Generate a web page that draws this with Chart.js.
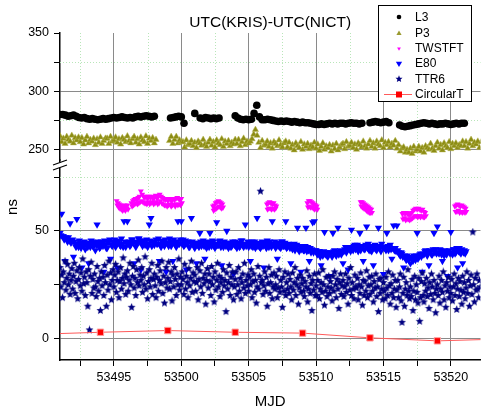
<!DOCTYPE html>
<html>
<head>
<meta charset="utf-8">
<script src="https://cdn.jsdelivr.net/npm/chart.js@4.4.1/dist/chart.umd.min.js"></script>
<style>
  html, body { margin: 0; padding: 0; background: #fff; }
  #wrap { width: 486px; height: 414px; }
</style>
</head>
<body>
<div id="wrap"><canvas id="chart" width="486" height="414"></canvas></div>
<script>
const l3Start = 53491.0, l3Step = 0.2;
const l3 = [
  280, 280, 279.5, 278.5, 279,
  279.5, 278.5, 277.5, 277, 277.5,
  276.5, 276, 276.5, 276, 275.5,
  276, 276.5, 276, 276.5, 277,
  277.5, 277, 277.5, 278, 277.5,
  277, 277.5, 277, 278, 278.5,
  278, 278.5, 279, 278.5, 278,
  278.5, null, null, null, null,
  null, 277, 277.5, 278, 278.5,
  278, 272.5, null, null, null,
  281, null, 277, 276.5, 277.5,
  277, 276.5, 277, 276.5, 277,
  null, null, null, null, null,
  279, 277, 276, 275.5, 276,
  275.5, 276, 281, 288, 278,
  275.5, 275.5, 276, 275.5, 275,
  274.5, 274, 274.5, 274, 274.5,
  274, 273.5, 274, 273.5, 273,
  273.5, 273, 273, 272.5, 272,
  271.5, 271.5, 272, 271.5, 272,
  272.5, 272, 272.5, 272, 272.5,
  272.5, 272, 272.5, 273, 272.5,
  272.5, 272, 272.5, null, null,
  273, 273.5, 274, 273.5, 273,
  273.5, 274, 273, null, null,
  null, 271, 270, 269.5, 270,
  270.5, 271, 271.5, 272, 272.5,
  273, 272.5, 272, 272.5, 272,
  271.5, 272, 272, 272.5, 272,
  271.5, 272, 272.5, 272, 272.5,
  272.5
];

const p3Start = 53491.0, p3Step = 0.125;
const p3 = [
  261.5, 256.5, 259.5, 255, 261, 258.5, 257, 262, 255.5, 260, 258, 260.5,
  256.5, 260, 254.5, 258, 261, 255.5, 258.5, 257, 259.5, 254, 259, 256, 260.5, 255, 257.5, 259.5,
  259.5, 255, 261, 257, 258, 260.5, 256, 259, 254.5, 260, 258.5, 256.5, 261.5, 257.5, 255.5, 259,
  261, 256, 259, 254.5, 260.5, 258, 256.5, 261.5, 255, 259.5, 257.5, 260, 255.5, 258.5,
  null, null, null, null, null, null, null,
  257.5, 261, 255, 258.5, 261, 255.5, 258, 256.5,
  256.5, 252, 258, 254, 255, 257.5, 253, 256, 251.5, 257, 255.5, 253.5, 258.5, 254.5, 252.5, 256,
  258.5, 253.5, 256.5, 252, 258, 255.5, 254, 259, 252.5, 257, 255, 257.5, 253, 256, 254.5, 258.5,
  255, 258.5, 253, 256.5, 259.5, 254, 257,
  255.5, 257, 259, 263, 267, 262,
  256, 251.5, 257.5, 253.5, 254.5, 257, 252.5, 255.5, 251, 256.5, 255, 253, 258, 254, 252, 255.5, 257, 252,
  256, 251, 254, 249.5, 255.5, 253, 251.5, 256.5, 250, 254.5, 252.5, 255, 250.5, 253.5, 252, 256,
  251, 254.5, 249, 252.5, 255.5, 250, 253, 251.5, 254, 248.5, 253.5, 250.5, 255, 249.5, 252, 254,
  255, 250.5, 256.5, 252.5, 253.5, 256, 251.5, 254.5, 250, 255.5, 254, 252, 257, 253, 251, 254.5,
  257.5, 252.5, 255.5, 251, 257, 254.5, 253, 258, 251.5, 256, 254, 256.5, 252, 255, 253.5, 257.5,
  251, 254, 248.5, 251, 252, 247.5, 250, 247.5,
  251, 246.5, 252.5, 248.5, 250, 252.5, 248.5, 251.5, 247.5, 253, 251.5, 250, 255, 251, 249, 253,
  256, 251, 254, 249.5, 255.5, 253, 251.5, 256.5, 250.5, 255, 253, 255.5, 251.5, 254, 253, 257,
  253, 256.5, 251, 255, 258.5, 253, 256, 254.5, 257, 251.5, 256.5
];

const e80Start = 53491.0, e80Step = 0.0625;
const e80 = [
  49, 48, 58, 47.5, 47.5, 46, 36, 47, 46, 45, 47, 45.5, 53.5, 44.5, 45, 46,
  38, 45, 44, 42.5, 55.5, 44, 42.5, 45.5, 44.5, 42, 33, 44, 43, 45, 41.5, 43.5,
  44, 42.5, 35, 44.5, 42.5, 45.5, 45, 43, 43, 44.5, 41, 43.5, 53, 45, 44, 42,
  42.5, 45, 44.5, 43, 31, 45.5, 43.5, 42, 42, 44.5, 45, 46, 37, 43.5, 43, 45,
  44.5, 46, 42.5, 44, 33, 45, 45.5, 43.5, 43, 46.5, 44, 42.5, 54.5, 45, 42.5, 44.5,
  54.5, 44, 45, 43, 43.5, 46, 46, 44.5, 35, 45, 42.5, 44, 44.5, 46.5, 46.5, 45,
  32, 44.5, 43, 45.5, 45.5, 43.5, 44, 46, 42.5, 44, 53, 45.5, 56, 43, 45, 44.5,
  43.5, 45, 46, 44, 44, 46.5, 36, 43.5, 42.5, 45, 45.5, 44, 43, 46, 31, 44.5,
  44.5, 43, 46.5, 45, 43, 44.5, 36, 46, 45, 43.5, 42.5, 45, 54.5, 44, 44, 46,
  54.5, 44, 46, 43, 43.5, 45.5, 32, 44, 45, 42.5, 42.5, 44.5, 56, 45, 44, 43,
  42, 44.5, 35, 43.5, 44.5, 42.5, 49, 45, 43, 44, 45.5, 43, 37, 44.5, 42, 45,
  44, 42.5, 49, 44.5, 43, 45.5, 45, 43, 42, 44, 54, 43.5, 43.5, 45, 45.5, 42.5,
  34, 44, 42.5, 45, 44, 43, 50, 44.5, 42, 43.5, 44.5, 42.5, 43, 45, 30, 43.5,
  45, 43, 42, 44.5, 44.5, 42.5, 43, 45.5, 45.5, 43.5, 42.5, 44, 53, 43, 44, 45,
  42.5, 44.5, 36, 43, 45, 42.5, 43.5, 45, 42, 44, 56, 43, 44.5, 42.5, 42, 44,
  45, 43, 33, 44.5, 43, 42, 45.5, 44, 42.5, 45, 44, 42.5, 54.5, 44, 43.5, 45,
  42, 44, 37, 43, 44.5, 42.5, 42, 45, 45, 43, 43, 44.5, 54.5, 42, 42.5, 44,
  43.5, 42, 35, 43.5, 41.5, 43, 44, 41, 42, 43.5, 51.5, 41.5, 40.5, 43, 31, 41.5,
  43, 41, 41, 43, 51.5, 40.5, 42.5, 41, 36, 42, 40, 41.5, 54, 40, 54.5, 41,
  41, 39.5, 39, 40.5, 40.5, 38, 34, 40, 38.5, 40.5, 49.5, 39, 40, 38.5, 38, 40,
  29, 40, 39.5, 38, 49, 40.5, 41, 39, 38.5, 40.5, 51.5, 39, 40, 41, 39, 40.5,
  35, 40.5, 41.5, 42.5, 40, 41, 32, 42, 42.5, 40.5, 50.5, 42, 41, 43, 43.5, 41.5,
  42, 43.5, 40.5, 42, 49, 41, 43, 42.5, 36, 41.5, 41.5, 43.5, 52, 42, 44, 41,
  42.5, 41, 40.5, 43, 34, 42, 43.5, 41.5, 41, 43, 51.5, 42.5, 42, 40.5, 44, 42.5,
  30, 42, 42.5, 41, 49, 43, 41, 42.5, 43.5, 41.5, 37, 42, 52.5, 41, 42, 40.5,
  52.5, 41, 40, 39, 38.5, 40, 39.5, 38, 33, 38.5, 37.5, 36.5, 38.5, 37, 36.5, 37.5,
  35, 38, 37, 36, 38.5, 37.5, 36.5, 38.5, 49, 37, 38, 39, 39.5, 38, 31, 39.5,
  39, 40.5, 41, 39.5, 38.5, 40, 34, 41, 40.5, 39, 39, 41.5, 49, 40, 41.5, 39.5,
  52, 40, 39.5, 41.5, 41, 39, 36, 40.5, 38.5, 41, 40.5, 39, 29, 40.5, 41, 39.5,
  49.5, 40, 39, 41.5, 41.5, 39.5, 40, 42, 33, 40.5, 42, 40, 39.5, 41.5, 35, 40,
  41, 39.5, 40.5
];

const ttr6Start = 53491.0, ttr6Step = 0.0625;
const ttr6 = [
  33, 24, 29.5, 19, 31, 26, 36, 22.5, 28, 34.5, 25, 30, 20.5, 27, 32.5, 23,
  29, 35, 21, 26.5, 31.5, 18.5, 27.5, 33, 24.5, 30.5, 22, 37, 25.5, 28.5, 20, 31,
  26, 15, 32, 4, 29, 35.5, 21, 27.5, 23.5, 30, 24, 19.5, 33.5, 26.5, 22, 28,
  13, 31, 24.5, 28.5, 20, 34, 26, 15, 29.5, 22.5, 36, 25, 30.5, 18, 27, 32,
  24, 29.5, 34.5, 21.5, 27, 31, 19, 26.5, 33, 23, 28, 37.5, 25.5, 30, 20.5, 28.5,
  31.5, 22, 27, 35, 25, 14.5, 29, 33.5, 23.5, 28, 20, 32, 26, 36.5, 24.5, 29.5,
  27, 33, 21.5, 29, 25, 38, 23, 30.5, 18.5, 26.5, 32, 24, 28, 35, 20.5, 27.5,
  30, 24.5, 19, 28.5, 34, 22, 27, 31.5, 25.5, 36, 21, 29, 16.5, 26, 33, 23.5,
  28, 35.5, 23, 26.5, 31, 17.5, 29.5, 24, 33, 27.5, 20, 30, 25, 37, 22.5, 28.5,
  25, 31, 27.5, 20.5, 34.5, 23, 29, 26, 19, 32.5, 24.5, 28, 36, 21.5, 30.5, 26.5,
  29.5, 22, 26, 33, 18, 27.5, 31.5, 24, 35, 21, 28, 25.5, 30, 16, 27, 32.5,
  23.5, 30, 26.5, 20, 33.5, 25, 28.5, 17, 31, 22.5, 27, 35, 24, 29, 19.5, 26,
  28, 21.5, 32, 24.5, 27, 12.5, 30.5, 23, 26, 34, 20, 28.5, 25, 31, 18, 24,
  27.5, 31, 20.5, 25, 33, 22, 28, 18.5, 26, 30, 23.5, 35, 21, 27, 24.5, 29.5,
  22, 28.5, 25, 32, 19, 26.5, 30, 21.5, 27, 16.5, 24, 33.5, 23, 29, 68.5, 26,
  27, 20.5, 24.5, 31, 22, 28.5, 15, 25.5, 33, 21, 26, 29.5, 18.5, 24, 30.5, 23,
  25, 29, 19, 23.5, 32, 21.5, 27, 24, 14.5, 28.5, 22, 31, 20, 26, 23, 30,
  21, 27.5, 24, 18, 30.5, 22.5, 26, 33, 20, 25, 28, 16, 23.5, 29.5, 21.5, 25.5,
  28, 22, 19.5, 26.5, 24, 31.5, 17, 23, 29, 21, 25.5, 13, 27, 22.5, 30, 20,
  24.5, 20, 27, 30.5, 18.5, 23, 26, 21.5, 32, 25, 15.5, 22, 28.5, 19.5, 24, 29,
  21, 26.5, 23.5, 17.5, 29, 22, 31, 25, 19, 27.5, 23, 14, 26, 30, 20.5, 24.5,
  27, 19.5, 24, 30, 21.5, 25.5, 16, 28, 22.5, 33, 20, 26, 23, 18.5, 29.5, 24,
  23.5, 28, 18, 25, 21, 30.5, 24, 15.5, 27, 20, 26.5, 22, 31.5, 19, 24.5, 28.5,
  20.5, 25, 29, 22, 17, 26.5, 23.5, 30, 19.5, 24, 12.5, 27.5, 21, 28, 23, 18,
  26, 22, 18.5, 28.5, 23.5, 20, 31, 24.5, 16, 25.5, 21, 29.5, 19, 23, 27, 14.5,
  22.5, 27, 19, 24, 30, 17.5, 7.5, 21, 28.5, 15, 23, 26, 20, 32, 22, 18.5,
  24, 19.5, 27.5, 13, 22, 29, 18, 25, 21.5, 16.5, 28, 8, 19, 26.5, 30.5, 20,
  17, 25.5, 22, 28, 19.5, 23.5, 14, 26, 20.5, 30, 24, 18, 27, 21, 12, 23,
  25, 20, 29, 16.5, 23, 27, 21.5, 31, 18, 24.5, 14.5, 26, 22, 28.5, 19, 24,
  21, 27.5, 17.5, 24, 30, 20, 25.5, 13.5, 23, 28, 19.5, 26.5, 22.5, 16, 29, 21.5,
  26, 18.5, 23.5, 31, 21, 27, 15, 24.5, 29.5, 20.5, 49.5, 25, 17, 28, 22.5, 30,
  23, 19, 27, 24
];

// TWSTFT comes in separate sessions: start MJD of each, then values every 0.05 d
const twStep = 0.05;
const twStarts = [53495.2, 53496.3, 53502.35, 53506.35, 53509.35, 53513.3, 53516.4, 53520.3];
const twVals = [
  [64, 62, 63, 61, 62.5, 60.5, 62, 60, 61.5, 59.5, 61, 60, 62, 59.5, 61, 60.5, 62, 60],
  [63, 61.5, 64, 62, 64.5, 62.5, 65, 63, 64.5, 62.5,
   65.5, 63, 66, 63.5, 68.5, 64, 67, 63.5, 66, 63,
   65.5, 63, 66, 62.5, 65, 63.5, 66, 62.5, 65.5, 63,
   66, 63.5, 65, 62.5, 65.5, 63, 66.5, 63.5, 65, 62.5,
   66, 63, 67, 64, 66, 63, 65.5, 62.5, 65, 62,
   64.5, 62, 65, 61.5, 64, 62, 65, 62.5, 64.5, 61.5,
   64, 62, 65, 62.5, 64.5, 61.5, 65, 62.5, 65.5, 62,
   65, 62.5, 64.5, 62, 65, 63],
  [61.5, 59.5, 62, 60, 63, 60.5, 63.5, 61, 64, 61.5, 63.5, 61, 63, 60.5, 62.5, 61],
  [62.5, 60, 63, 60.5, 63.5, 60.5, 63, 60, 62.5, 60.5, 63, 60, 62, 60.5, 61.5],
  [63, 61, 64, 61.5, 64, 61, 63.5, 61, 63, 60.5, 62.5, 60, 62, 60.5, 61.5, 60],
  [63.5, 61.5, 63.5, 61, 63, 60.5, 62.5, 60, 62, 59.5, 61.5, 59, 61, 58.5, 60.5, 58.5, 60, 58.5],
  [58, 55.5, 58.5, 56, 58, 55, 58.5, 55.5, 58, 55.5, 57.5, 55, 58, 55.5, 58.5, 56, 59.5, 56.5,
   60, 57, 60.5, 57, 60, 56.5, 60.5, 57, 60, 56.5, 59.5, 57, 60, 56.5, 59, 56.5, 58.5, 57],
  [61.5, 59, 62, 59, 62.5, 59.5, 62, 58.5, 61.5, 59, 62, 58.5, 61.5, 59, 61, 58.5, 60.5, 59]
];

const ctMjd = [53489, 53494, 53499, 53504, 53509, 53514, 53519, 53524];
const ctVal = [1.9, 2.9, 3.7, 2.9, 2.5, 0.3, -1.1, -0.2];

const xTicks = [53492.5, 53495, 53497.5, 53500, 53502.5, 53505, 53507.5, 53510, 53512.5, 53515, 53517.5, 53520];
const upperTicks = [250, 275, 300, 325, 350];
const lowerTicks = [0, 25, 50, 75];

const FONT = "'Liberation Sans', Arial, Helvetica, sans-serif";
Chart.defaults.font.family = FONT;
Chart.defaults.color = '#000';
const GREY = '#8a8a8a';

function series(start, step, vals) {
  const pts = [];
  vals.forEach((v, i) => { if (v !== null) pts.push({x: start + i * step, y: v}); });
  return pts;
}
function sessions(starts, step, lists) {
  const pts = [];
  lists.forEach((vals, k) => vals.forEach((v, i) => pts.push({x: starts[k] + i * step, y: v})));
  return pts;
}

function makeStar(size, fill) {
  const c = document.createElement('canvas');
  c.width = c.height = size;
  const g = c.getContext('2d');
  const r = size / 2 - 0.3, ri = r * 0.45, cx = size / 2, cy = size / 2;
  g.beginPath();
  for (let k = 0; k < 10; k++) {
    const rr = k % 2 ? ri : r;
    const a = -Math.PI / 2 + k * Math.PI / 5;
    g.lineTo(cx + rr * Math.cos(a), cy + rr * Math.sin(a));
  }
  g.closePath();
  g.fillStyle = fill; g.fill();
  return c;
}
const starImg = makeStar(9, '#000080');
const starLegend = makeStar(8, '#000080');

function tri(ctx, x, y, r, fill, down) {
  const s = down ? -1 : 1;
  ctx.beginPath();
  ctx.moveTo(x, y - s * r);
  ctx.lineTo(x + r * 0.866, y + s * r * 0.5);
  ctx.lineTo(x - r * 0.866, y + s * r * 0.5);
  ctx.closePath();
  ctx.fillStyle = fill; ctx.fill();
}

const decor = {
  id: 'decor',
  beforeDatasetsDraw(chart) {
    const {ctx, chartArea: a, scales} = chart;
    ctx.save();
    ctx.strokeStyle = '#b9e6b9';
    ctx.lineWidth = 1;
    ctx.setLineDash([1, 2]);
    ctx.beginPath();
    xTicks.filter(v => v % 5 !== 0).forEach(v => {
      const px = Math.round(scales.x.getPixelForValue(v)) + 0.5;
      ctx.moveTo(px, a.top); ctx.lineTo(px, a.bottom);
    });
    [[scales.yU, upperTicks], [scales.yL, lowerTicks]].forEach(([s, ticks]) => {
      ticks.filter(v => v % 50 !== 0).forEach(v => {
        const py = Math.round(s.getPixelForValue(v)) + 0.5;
        ctx.moveTo(a.left, py); ctx.lineTo(a.right, py);
      });
    });
    ctx.stroke();
    ctx.restore();
  },
  afterDraw(chart) {
    const {ctx, chartArea: a} = chart;
    ctx.save();
    // axis break
    const yb = chart.scales.yU.bottom;
    ctx.fillStyle = '#fff';
    ctx.fillRect(a.left - 1.5, yb + 2.5, 3, 5);
    ctx.strokeStyle = '#000';
    ctx.lineWidth = 1.2;
    ctx.beginPath();
    ctx.moveTo(a.left - 7, yb + 5); ctx.lineTo(a.left + 7, yb);
    ctx.moveTo(a.left - 7, yb + 10); ctx.lineTo(a.left + 7, yb + 5);
    ctx.stroke();

    // y axis title
    ctx.fillStyle = '#000';
    ctx.font = '15px ' + FONT;
    ctx.textAlign = 'center';
    ctx.textBaseline = 'alphabetic';
    ctx.translate(17, 207);
    ctx.rotate(-Math.PI / 2);
    ctx.fillText('ns', 0, 0);
    ctx.setTransform(1, 0, 0, 1, 0, 0);

    // legend box
    ctx.fillStyle = '#fff';
    ctx.fillRect(378, 5, 93, 96);
    ctx.strokeStyle = '#000';
    ctx.lineWidth = 1;
    ctx.strokeRect(378.5, 5.5, 93, 96);
    const rows = [17, 33, 48.5, 63.5, 79, 94];
    const mx = 399;
    ctx.beginPath(); ctx.arc(mx, rows[0], 2.3, 0, Math.PI * 2); ctx.fillStyle = '#000'; ctx.fill();
    tri(ctx, mx, rows[1] + 0.5, 3, '#9a9a30', false);
    tri(ctx, mx, rows[2], 2.2, '#ff00ff', true);
    tri(ctx, mx, rows[3], 3.6, '#0000ff', true);
    ctx.drawImage(starLegend, mx - 4, rows[4] - 4);
    ctx.strokeStyle = '#ff5a5a';
    ctx.beginPath(); ctx.moveTo(384, rows[5] + 0.5); ctx.lineTo(412, rows[5] + 0.5); ctx.stroke();
    ctx.fillStyle = '#ff0000';
    ctx.fillRect(mx - 3, rows[5] - 2.5, 6, 6);
    ctx.fillStyle = '#000';
    ctx.font = '12px ' + FONT;
    ctx.textAlign = 'left';
    ctx.textBaseline = 'middle';
    ['L3', 'P3', 'TWSTFT', 'E80', 'TTR6', 'CircularT'].forEach((t, i) => ctx.fillText(t, 415, rows[i] + 0.5));
    ctx.restore();
  }
};

new Chart(document.getElementById('chart'), {
  type: 'scatter',
  data: {
    datasets: [
      {
        label: 'CircularT', yAxisID: 'yL', order: 0,
        data: ctMjd.map((x, i) => ({x: x, y: ctVal[i]})),
        showLine: true, borderColor: '#ff5a5a', borderWidth: 1, tension: 0,
        pointStyle: 'rect', pointRadius: 4.5,
        pointBackgroundColor: '#ff0000', pointBorderColor: '#ff9c9c', pointBorderWidth: 1
      },
      {
        label: 'TTR6', yAxisID: 'yL', order: 1,
        data: series(ttr6Start, ttr6Step, ttr6),
        pointStyle: starImg, pointRadius: 4.5
      },
      {
        label: 'E80', yAxisID: 'yL', order: 2,
        data: series(e80Start, e80Step, e80),
        pointStyle: 'triangle', pointRotation: 180, pointRadius: 4.2,
        pointBackgroundColor: '#0000ff', pointBorderWidth: 0
      },
      {
        label: 'TWSTFT', yAxisID: 'yL', order: 3,
        data: sessions(twStarts, twStep, twVals),
        pointStyle: 'triangle', pointRotation: 180, pointRadius: 3.4,
        pointBackgroundColor: '#ff00ff', pointBorderWidth: 0
      },
      {
        label: 'P3', yAxisID: 'yU', order: 4,
        data: series(p3Start, p3Step, p3),
        pointStyle: 'triangle', pointRadius: 3.6,
        pointBackgroundColor: '#8c8c14', pointBorderColor: '#b4b44e', pointBorderWidth: 0.5
      },
      {
        label: 'L3', yAxisID: 'yU', order: 5,
        data: series(l3Start, l3Step, l3),
        pointStyle: 'circle', pointRadius: 3.8,
        pointBackgroundColor: '#000', pointBorderWidth: 0
      }
    ]
  },
  options: {
    responsive: false,
    animation: false,
    devicePixelRatio: 1,
    events: [],
    layout: { padding: 0 },
    scales: {
      x: {
        type: 'linear', position: 'bottom', bounds: 'data',
        min: 53491, max: 53522.2,
        afterBuildTicks: s => { s.ticks = xTicks.map(v => ({value: v})); },
        afterFit: s => { s.height = 54; },
        ticks: {
          autoSkip: false, maxRotation: 0, padding: 4,
          font: {size: 12.5}, color: '#000',
          callback: v => (v % 5 === 0 ? String(v) : '')
        },
        grid: {
          color: c => (c.tick && c.tick.value % 5 === 0 ? GREY : 'rgba(0,0,0,0)'),
          tickColor: '#000', tickLength: 6
        },
        border: { color: '#000', width: 1.5 },
        title: { display: true, text: 'MJD', font: {size: 15}, color: '#000', padding: {top: 0, bottom: 3} }
      },
      yL: {
        type: 'linear', position: 'left', stack: 'ns', stackWeight: 200, bounds: 'data',
        min: -10, max: 83,
        afterBuildTicks: s => { s.ticks = lowerTicks.map(v => ({value: v})); },
        afterFit: s => { s.width = 60; },
        ticks: { padding: 5, font: {size: 12.5}, color: '#000', callback: v => (v % 50 === 0 ? String(v) : '') },
        grid: {
          color: c => (c.tick && c.tick.value % 50 === 0 ? GREY : 'rgba(0,0,0,0)'),
          tickColor: '#000', tickLength: 6
        },
        border: { color: '#000', width: 1.5 }
      },
      yU: {
        type: 'linear', position: 'left', stack: 'ns', stackWeight: 127, bounds: 'data',
        min: 241, max: 350,
        afterBuildTicks: s => { s.ticks = upperTicks.map(v => ({value: v})); },
        afterFit: s => { s.width = 60; },
        ticks: { padding: 5, font: {size: 12.5}, color: '#000', callback: v => (v % 50 === 0 ? String(v) : '') },
        grid: {
          color: c => (c.tick && c.tick.value % 50 === 0 && c.tick.value !== 350 ? GREY : 'rgba(0,0,0,0)'),
          tickColor: '#000', tickLength: 6
        },
        border: { color: '#000', width: 1.5 }
      }
    },
    plugins: {
      legend: { display: false },
      tooltip: { enabled: false },
      title: {
        display: true, text: 'UTC(KRIS)-UTC(NICT)', fullSize: false, color: '#000',
        font: {size: 15.5, weight: 'normal'},
        padding: {top: 13.5, bottom: 0.9}
      }
    }
  },
  plugins: [decor]
});
</script>
</body>
</html>
